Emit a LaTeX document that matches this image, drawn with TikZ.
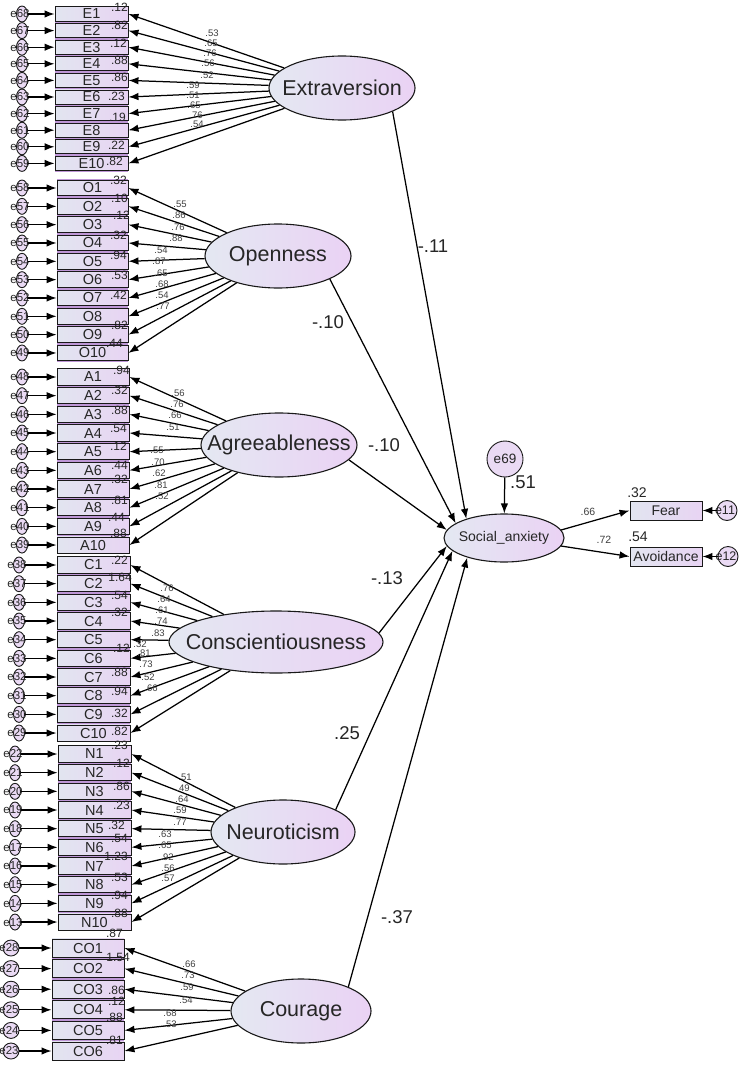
\documentclass[tikz,border=0pt]{standalone}
\usepackage{fontspec}
\setmainfont{Liberation Sans}
\usetikzlibrary{shapes.geometric,arrows.meta}
\definecolor{boxL}{RGB}{226,229,240}
\definecolor{boxR}{RGB}{232,212,243}
\definecolor{latL}{RGB}{228,232,242}
\definecolor{latR}{RGB}{234,210,244}
\definecolor{errF}{RGB}{234,218,244}
\definecolor{stripcol}{RGB}{190,150,214}
\tikzset{
  arr/.style={-{Latex[length=10pt,width=7.5pt]}, line width=1.25pt, draw=black},
  obs/.style={rectangle, draw=black!90, line width=0.9pt, left color=boxL, right color=boxR, inner sep=0pt, text=black!85, font=\fontsize{14.5}{15}\selectfont},
  lat/.style={ellipse, draw=black!90, line width=1.1pt, left color=latL, right color=latR, inner sep=0pt},
  lattxt/.style={inner sep=0pt, text=black!85, font=\fontsize{21.5}{23}\selectfont},
  errc/.style={ellipse, draw=black!90, line width=0.9pt, fill=errF, minimum width=11pt, minimum height=16pt, inner sep=0pt},
  errco/.style={circle, draw=black!90, line width=0.9pt, fill=errF, minimum size=16pt, inner sep=0pt},
  errtxt/.style={inner sep=0pt, text=black!85, font=\fontsize{11.5}{12}\selectfont, xshift=-2pt},
  rsq/.style={inner sep=0pt, anchor=east, text=black!85, font=\fontsize{12}{12}\selectfont},
  ld/.style={inner sep=0pt, text=black!75, font=\fontsize{9.5}{9.5}\selectfont},
  pathlbl/.style={inner sep=0pt, text=black!85, font=\fontsize{18.5}{18.5}\selectfont},
}
% #1 prefix, #2 first y, #3 spacing, #4 count, #5 left x, #6 right x, #7 err x, #8 err base, #9 err style
\newcommand\obsblock[9]{%
  \pgfmathsetmacro\blktop{#2-#3/2}%
  \pgfmathsetmacro\blkbot{#2+#3*(#4-1)+#3/2}%
  \fill[stripcol] (#5,\blktop) rectangle (#6,\blkbot);
  \foreach \i in {1,...,#4}{%
    \pgfmathsetmacro\yy{#2+#3*(\i-1)}%
    \pgfmathtruncatemacro\en{#8-\i}%
    \pgfmathsetmacro\bw{#6-#5}%
    \pgfmathsetmacro\bh{#3-2.5}%
    \pgfmathsetmacro\bx{(#5+#6)/2}%
    \node[obs, minimum width=\bw pt, minimum height=\bh pt] (#1\i) at (\bx,\yy) {#1\i};
    \node[#9, label={[errtxt]center:e\en}] (e#1\i) at (#7,\yy) {};
    \draw[arr] (e#1\i) -- (#1\i);
  }%
}
\begin{document}
\begin{tikzpicture}[x=1pt,y=-1pt]
\useasboundingbox (0,0) rectangle (743,1065);
\fill[white] (0,0) rectangle (743,1065);

% observed blocks
\obsblock{E}{14}{16.6}{10}{55}{128}{22}{69}{errc}
\obsblock{O}{188}{18.33}{10}{57}{128}{22}{59}{errc}
\obsblock{A}{377}{18.67}{10}{57}{129}{22}{49}{errc}
\obsblock{C}{565}{18.67}{10}{57}{130}{19}{39}{errc}
\obsblock{N}{754}{18.67}{10}{58}{131}{15}{23}{errc}
\obsblock{CO}{948}{20.6}{6}{52}{124}{11}{29}{errco}

% latent variables
\node[lat, minimum width=146pt, minimum height=64pt, label={[lattxt]center:Extraversion}] (ext) at (342,88) {};
\node[lat, minimum width=146pt, minimum height=64pt, label={[lattxt]center:Openness}] (ope) at (278,256) {};
\node[lat, minimum width=156pt, minimum height=64pt, label={[lattxt]center:Agreeableness}] (agr) at (279,445) {};
\node[lat, minimum width=214pt, minimum height=62pt, label={[lattxt]center:Conscientiousness}] (con) at (276,642) {};
\node[lat, minimum width=144pt, minimum height=64pt, label={[lattxt]center:Neuroticism}] (neu) at (283,832) {};
\node[lat, minimum width=140pt, minimum height=64pt, label={[lattxt]center:Courage}] (cou) at (301,1011) {};

% loading arrows
\foreach \i in {1,...,10} \draw[arr] (ext) -- (E\i.east);
\foreach \i in {1,...,10} \draw[arr] (ope) -- (O\i.east);
\foreach \i in {1,...,10} \draw[arr] (agr) -- (A\i.east);
\foreach \i in {1,...,10} \draw[arr] (con) -- (C\i.east);
\foreach \i in {1,...,10} \draw[arr] (neu) -- (N\i.east);
\foreach \i in {1,...,6} \draw[arr] (cou) -- (CO\i.east);

% outcome side
\node[lat, minimum width=120pt, minimum height=48pt, label={[lattxt, font=\fontsize{14}{15}\selectfont]center:Social\_anxiety}] (sa) at (504,538) {};
\node[errco, minimum size=36pt, font=\fontsize{13.5}{14}\selectfont, text=black!85] (e69) at (505,459) {e69};
\node[obs, minimum width=72pt, minimum height=19pt, font=\fontsize{14}{14}\selectfont] (fear) at (666,510.5) {Fear};
\node[obs, minimum width=72pt, minimum height=19pt, font=\fontsize{14}{14}\selectfont] (avo) at (666,556.5) {Avoidance};
\node[errco, minimum size=20pt, label={[errtxt, font=\fontsize{12.5}{12.5}\selectfont]center:e11}] (e11) at (727,510.5) {};
\node[errco, minimum size=20pt, label={[errtxt, font=\fontsize{12.5}{12.5}\selectfont]center:e12}] (e12) at (728,556.5) {};

\draw[arr] (e69) -- (sa);
\draw[arr] (sa.8) -- (fear.west);
\draw[arr] (sa.-8) -- (avo.west);
\draw[arr] (e11) -- (fear);
\draw[arr] (e12) -- (avo);

% structural paths
\draw[arr] (ext.-25) -- (sa.153);
\draw[arr] (ope.-24) -- (sa.163.6);
\draw[arr] (agr.-12) -- (sa.172.5);
\draw[arr] (con.5.4) -- (sa.188.3);
\draw[arr] (neu.23) -- (sa.194.5);
\draw[arr] (cou.27) -- (sa.208.6);

\node[pathlbl] (pE) at (433,246) {-.11};
\node[pathlbl] (pO) at (328,322) {-.10};
\node[pathlbl] (pA) at (384,445) {-.10};
\node[pathlbl] (pC) at (387,578) {-.13};
\node[pathlbl] (pN) at (347,733) {.25};
\node[pathlbl] (pCO) at (397,917) {-.37};
\node[pathlbl] (p69) at (523,482) {.51};
\node[ld, font=\fontsize{10.5}{10.5}\selectfont] (pF) at (588,512) {.66};
\node[ld, font=\fontsize{10.5}{10.5}\selectfont] (pAv) at (604,540) {.72};
\node[rsq, anchor=center, font=\fontsize{14}{14}\selectfont] (rF) at (637,493) {.32};
\node[rsq, anchor=center, font=\fontsize{14}{14}\selectfont] (rAv) at (638,537) {.54};

% loading labels
\foreach \x/\y/\v [count=\k] in {212/33/.53,211/43/.65,210/53/.76,208/63/.56,207/75/.52,193/85/.59,193/95/.51,194/105/.65,196/115/.76,197/124/.54}
  \node[ld] (lE\k) at (\x,\y) {\v};
\foreach \x/\y/\v [count=\k] in {180/204/.55,179/215/.86,178/227/.76,176/238/.88,161/250/.54,159/261/.87,161/273/.65,162/284/.68,162/295/.54,163/306/.77}
  \node[ld] (lO\k) at (\x,\y) {\v};
\foreach \x/\y/\v [count=\k] in {178/393/.56,177/404/.76,175/415/.66,173/427/.51,157/450/.55,158/462/.70,159/473/.62,161/485/.81,162/496/.52}
  \node[ld] (lA\k) at (\x,\y) {\v};
\foreach \x/\y/\v [count=\k] in {167/588/.76,164/599/.64,162/610/.61,161/621/.74,158/633/.83,140/644/.32,144/653/.81,146/664/.73,148/677/.52,151/688/.66}
  \node[ld] (lC\k) at (\x,\y) {\v};
\foreach \x/\y/\v [count=\k] in {185/777/.51,183/788/.49,182/799/.64,180/810/.59,180/822/.77,165/834/.63,165/845/.65,167/857/.92,168/868/.56,168/878/.57}
  \node[ld] (lN\k) at (\x,\y) {\v};
\foreach \x/\y/\v [count=\k] in {189/964/.66,188/975/.73,187/987/.59,186/1000/.54,170/1013/.68,170/1024/.53}
  \node[ld] (lCO\k) at (\x,\y) {\v};

% squared multiple correlations
\foreach \x/\y/\v [count=\k] in {128/7/.12,128/25/.82,127/43/.12,128/60/.88,128/77/.86,125/96/.23,126/117/.19,125/145/.22,123/161/.82}
  \node[rsq] (rE\k) at (\x,\y) {\v};
\foreach \x/\y/\v [count=\k] in {127/180/.32,128/198/.10,130/215/.12,127/235/.32,127/255/.94,128/275/.53,127/295/.42,128/325/.82,123/343/.44}
  \node[rsq] (rO\k) at (\x,\y) {\v};
\foreach \x/\y/\v [count=\k] in {130/370/.94,128/390/.32,128/410/.88,127/428/.54,127/446/.12,128/465/.44,128/479/.32,128/500/.81,125/517/.44,127/533/.88}
  \node[rsq] (rA\k) at (\x,\y) {\v};
\foreach \x/\y/\v [count=\k] in {128/560/.22,132/577/1.64,128/595/.54,128/612/.32,130/648/.12,128/672/.88,128/691/.94,128/713/.32,128/731/.82}
  \node[rsq] (rC\k) at (\x,\y) {\v};
\foreach \x/\y/\v [count=\k] in {128/745/.23,130/763/.12,130/786/.86,130/805/.23,125/825/.32,128/838/.54,128/856/1.23,128/877/.53,128/895/.94,128/913/.88}
  \node[rsq] (rN\k) at (\x,\y) {\v};
\foreach \x/\y/\v [count=\k] in {123/933/.87,130/957/1.54,125/990/.86,125/1001/.12,123/1017/.88,123/1040/.81}
  \node[rsq] (rCO\k) at (\x,\y) {\v};
\end{tikzpicture}
\end{document}
